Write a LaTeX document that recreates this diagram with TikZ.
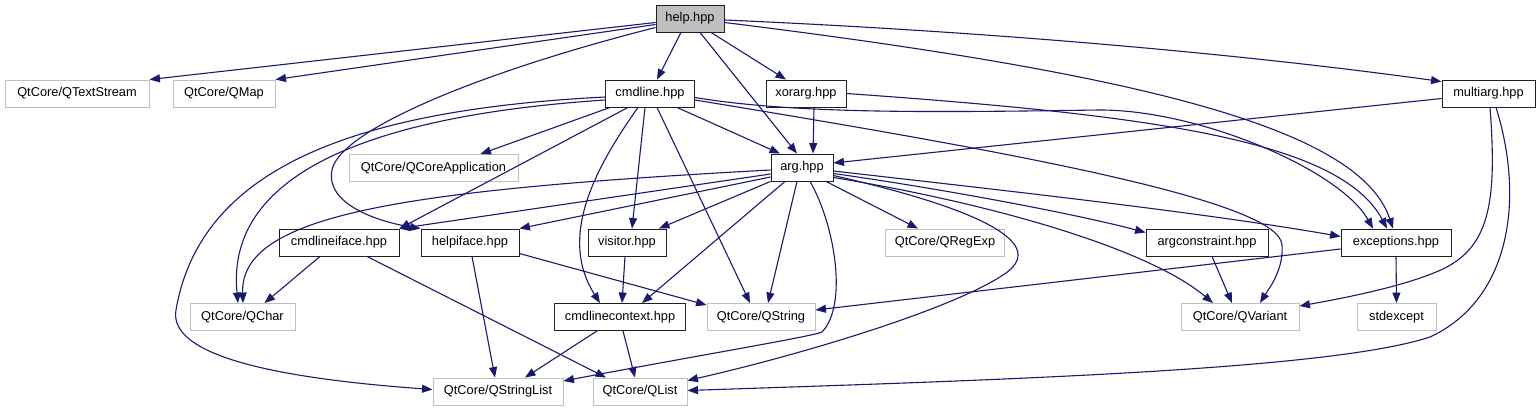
\documentclass[tikz,border=0pt]{standalone}
\usepackage{fontspec}
\setmainfont{Liberation Sans}
\usetikzlibrary{arrows.meta}
\definecolor{edgec}{HTML}{191970}
\definecolor{extc}{HTML}{BFBFBF}
\definecolor{helpfill}{HTML}{BFBFBF}
\definecolor{filec}{HTML}{202020}
\begin{document}
\begin{tikzpicture}[x=1pt,y=-1pt,
 file/.style={draw=filec, line width=0.9pt, fill=white, minimum height=27pt, inner sep=0pt, font=\fontsize{12.8pt}{14pt}\selectfont},
 ext/.style={file, draw=extc},
 dep/.style={draw=edgec, line width=1.1pt, -{Triangle[length=10.5pt,width=8pt]}},
]
\useasboundingbox[fill=white] (0,0) rectangle (1539,411);
% nodes
\node[file, fill=helpfill, minimum width=68pt] (help) at (690,18.5) {help.hpp};
\node[ext, minimum width=144pt] (qts) at (77,93.5) {QtCore/QTextStream};
\node[ext, minimum width=102pt] (qmap) at (224,93.5) {QtCore/QMap};
\node[file, minimum width=89pt] (cmdline) at (650,93.5) {cmdline.hpp};
\node[file, minimum width=80pt] (xorarg) at (806,93.5) {xorarg.hpp};
\node[file, minimum width=93pt] (multiarg) at (1488.5,93.5) {multiarg.hpp};
\node[ext, minimum width=169pt] (qcore) at (433.5,168) {QtCore/QCoreApplication};
\node[file, minimum width=62pt] (arg) at (802,167.5) {arg.hpp};
\node[file, minimum width=120pt] (cli) at (339,242.5) {cmdlineiface.hpp};
\node[file, minimum width=98pt] (hi) at (470,242.5) {helpiface.hpp};
\node[file, minimum width=78pt] (vis) at (627,242.5) {visitor.hpp};
\node[ext, minimum width=119pt] (qre) at (945,242.5) {QtCore/QRegExp};
\node[file, minimum width=122pt] (ac) at (1207,242.5) {argconstraint.hpp};
\node[file, minimum width=110pt] (exc) at (1396,242.5) {exceptions.hpp};
\node[ext, minimum width=105pt] (qchar) at (242.5,317) {QtCore/QChar};
\node[file, minimum width=131pt] (ctx) at (620,317) {cmdlinecontext.hpp};
\node[ext, minimum width=108pt] (qstr) at (761,317) {QtCore/QString};
\node[ext, minimum width=118pt] (qvar) at (1240,317) {QtCore/QVariant};
\node[ext, minimum width=79pt] (stdex) at (1396.5,317) {stdexcept};
\node[ext, minimum width=130pt] (qsl) at (498,391.5) {QtCore/QStringList};
\node[ext, minimum width=94pt] (qlist) at (640,391.5) {QtCore/QList};
% help.hpp
\draw[dep] ([yshift=-4pt]help.west) -- (qts.north east);
\draw[dep] ([yshift=-6pt]help.west) -- (qmap.north east);
\draw[dep] ([yshift=-9pt]help.west) .. controls (480,72) and (340,130) .. (332,170) .. controls (325,205) and (380,222) .. (hi.north west);
\draw[dep] ([xshift=-9pt]help.south) -- ([xshift=7pt]cmdline.north);
\draw[dep] ([xshift=10pt]help.south) -- ([xshift=-5pt]arg.north);
\draw[dep] ([xshift=21pt]help.south) -- ([xshift=-20pt]xorarg.north);
\draw[dep] ([yshift=-1.5pt]help.east) .. controls (1000,32) and (1250,55) .. ([yshift=-2pt]multiarg.north west);
\draw[dep] ([yshift=-4pt]help.east) .. controls (1150,75) and (1360,130) .. ([xshift=-3pt]exc.north);
% cmdline.hpp
\draw[dep] ([xshift=-40pt]cmdline.south) -- ([xshift=47pt]qcore.north);
\draw[dep] ([xshift=-22pt]cmdline.south) -- (cli.north east);
\draw[dep] ([xshift=-12pt]cmdline.south) .. controls (590,175) and (560,240) .. ([xshift=-20pt]ctx.north);
\draw[dep] ([xshift=-5pt]cmdline.south) -- ([xshift=5pt]vis.north);
\draw[dep] ([xshift=7pt]cmdline.south) -- ([xshift=-11pt]qstr.north);
\draw[dep] ([xshift=27pt]cmdline.south) -- ([xshift=-22pt]arg.north);
\draw[dep] ([yshift=-6.5pt]cmdline.east) .. controls (1000,150) and (1280,200) .. (1282,245) .. controls (1284,270) and (1268,290) .. ([xshift=20pt]qvar.north);
\draw[dep] ([yshift=-4pt]cmdline.east) .. controls (800,115) and (950,112) .. (1100,110) .. controls (1200,110) and (1340,170) .. ([xshift=-23pt]exc.north);
\draw[dep] ([yshift=-6.5pt]cmdline.west) .. controls (380,115) and (225,170) .. ([xshift=-4.5pt]qchar.north);
\draw[dep] ([yshift=-3.5pt]cmdline.west) .. controls (350,110) and (200,170) .. (176,310) .. controls (170,345) and (230,375) .. ([yshift=2pt]qsl.west);
% xorarg.hpp
\draw[dep] ([xshift=8pt]xorarg.south) -- ([xshift=11pt]arg.north);
\draw[dep] (xorarg.east) .. controls (1150,115) and (1340,140) .. ([xshift=-9pt]exc.north);
% multiarg.hpp
\draw[dep] ([yshift=-5pt]multiarg.west) -- ([yshift=4.5pt]arg.east);
\draw[dep] ([xshift=1.5pt]multiarg.south) .. controls (1497,200) and (1490,245) .. (1445,268) .. controls (1410,285) and (1350,297) .. ([yshift=-3pt]qvar.north east);
\draw[dep] ([xshift=7.5pt]multiarg.south) .. controls (1525,200) and (1510,300) .. (1430,337) .. controls (1330,370) and (1000,380) .. ([yshift=1pt]qlist.east);
% arg.hpp
\draw[dep] ([yshift=-2.5pt]arg.west) .. controls (400,190) and (240,215) .. ([xshift=0.5pt]qchar.north);
\draw[dep] ([yshift=-6.5pt]arg.west) -- (cli.north east);
\draw[dep] ([yshift=-9.5pt]arg.west) -- (hi.north east);
\draw[dep] (arg.south west) -- ([xshift=32pt]vis.north);
\draw[dep] ([xshift=-17pt]arg.south) -- ([xshift=22pt]ctx.north);
\draw[dep] ([xshift=-5pt]arg.south) -- ([xshift=7pt]qstr.north);
\draw[dep] ([xshift=8pt]arg.south) .. controls (835,225) and (848,305) .. (822,332) .. controls (810,337) and (700,355) .. ([yshift=10.5pt]qsl.east);
\draw[dep] ([yshift=-8pt]arg.east) .. controls (985,210) and (1050,245) .. (1003,275) .. controls (950,310) and (800,355) .. ([yshift=11pt]qlist.east);
\draw[dep] ([xshift=24pt]arg.south) -- ([xshift=-27pt]qre.north);
\draw[dep] ([yshift=-6pt]arg.east) .. controls (950,190) and (1080,215) .. ([yshift=10pt]ac.west);
\draw[dep] ([yshift=-3.5pt]arg.east) .. controls (1000,190) and (1200,212) .. ([yshift=6pt]exc.west);
\draw[dep] ([yshift=-10pt]arg.east) .. controls (1000,205) and (1150,250) .. ([xshift=-27pt]qvar.north);
% others
\draw[dep] ([xshift=-19pt]cli.south) -- ([xshift=22pt]qchar.north);
\draw[dep] ([xshift=28pt]cli.south) -- ([xshift=-34pt]qlist.north);
\draw[dep] ([xshift=2pt]hi.south) -- ([xshift=-3pt]qsl.north);
\draw[dep] ([yshift=-11pt]hi.east) -- ([yshift=-2pt]qstr.north west);
\draw[dep] ([xshift=-2pt]vis.south) -- ([xshift=2pt]ctx.north);
\draw[dep] ([xshift=-23pt]ctx.south) -- ([xshift=27pt]qsl.north);
\draw[dep] ([xshift=3pt]ctx.south) -- ([xshift=-5pt]qlist.north);
\draw[dep] ([xshift=5pt]ac.south) -- ([xshift=-8pt]qvar.north);
\draw[dep] ([yshift=-6.5pt]exc.west) -- ([yshift=7pt]qstr.east);
\draw[dep] (exc.south) -- (stdex.north);
\end{tikzpicture}
\end{document}
